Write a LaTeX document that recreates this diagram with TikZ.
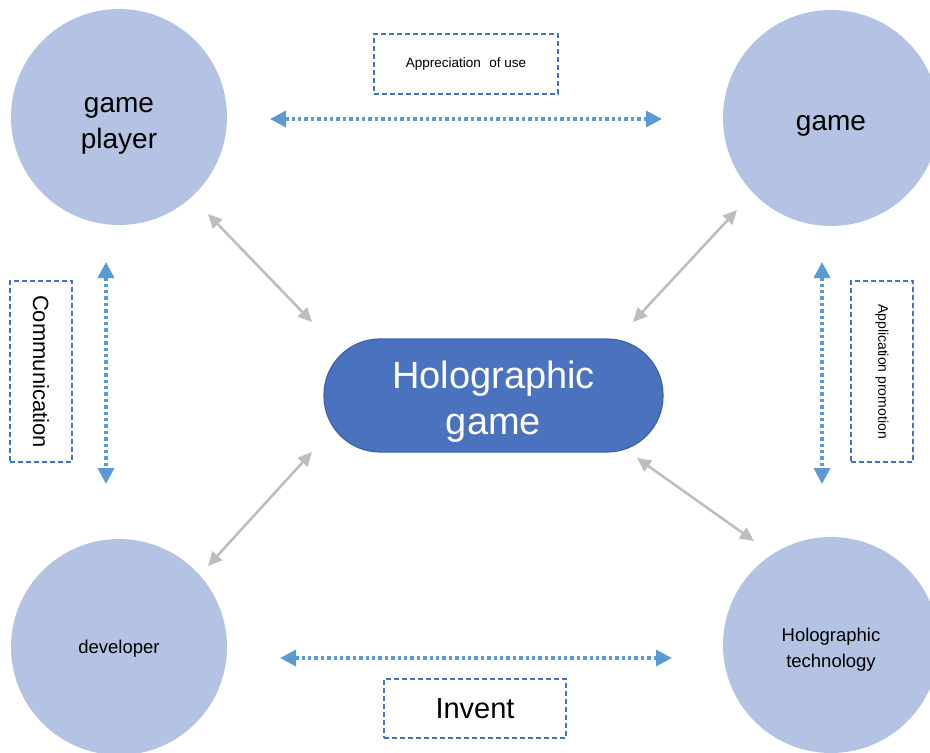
\documentclass[tikz,border=0pt]{standalone}
\usepackage{fontspec}
\setmainfont{Liberation Sans}
\usetikzlibrary{arrows.meta}
\definecolor{circfill}{HTML}{B4C3E3}
\definecolor{coreblue}{HTML}{4A72BE}
\definecolor{coreedge}{HTML}{3F64A6}
\definecolor{dotblue}{HTML}{5B9BD5}
\definecolor{boxblue}{HTML}{4472C4}
\definecolor{arrgray}{HTML}{BDBDBD}
\tikzset{
  bigcirc/.style={circle, fill=circfill, minimum size=216pt, inner sep=0pt},
  ctext/.style={align=center, text=black, inner sep=0pt},
  core/.style={rectangle, rounded corners=56pt, fill=coreblue, draw=coreedge, line width=1.2pt, minimum width=339pt, minimum height=113pt},
  coretext/.style={text=white, align=center, inner sep=0pt, font=\fontsize{38}{46}\selectfont},
  labbox/.style={draw=boxblue, dash pattern=on 5pt off 3pt, line width=1.6pt, inner sep=0pt, align=center},
  dotarrow/.style={draw=dotblue, line width=3.4pt, dash pattern=on 3.4pt off 3pt, {Triangle[length=16pt,width=16pt]}-{Triangle[length=16pt,width=16pt]}},
  grayarrow/.style={draw=arrgray, line width=2.5pt, {Triangle[length=14pt,width=13pt]}-{Triangle[length=14pt,width=13pt]}}
}
\begin{document}
\begin{tikzpicture}[x=1pt,y=-1pt]
\useasboundingbox (0,0) rectangle (930,753);
\fill[white] (0,0) rectangle (930,753);
\clip (0,0) rectangle (930,753);
% circles
\node[bigcirc] (player) at (119,117) {};
\node[ctext, font=\fontsize{28}{36}\selectfont] (playert) at (119,126) {game\\player};
\node[bigcirc] (game) at (831,118) {};
\node[ctext, font=\fontsize{28}{36}\selectfont] (gamet) at (831,126) {game};
\node[bigcirc] (dev) at (119,647) {};
\node[ctext, font=\fontsize{18.5}{26}\selectfont] (devt) at (119,649) {developer};
\node[bigcirc] (tech) at (831,645) {};
\node[ctext, font=\fontsize{18.5}{26}\selectfont] (techt) at (831,650) {Holographic\\technology};
% center
\node[core] (holo) at (493.5,395.5) {};
\node[coretext] (holot) at (493.5,402) {Holographic\\game};
% label boxes
\node[labbox, minimum width=184pt, minimum height=60pt, font=\fontsize{13.5}{16}\selectfont] (appr) at (466,64) {Appreciation\hspace{0.35em} of use};
\node[labbox, minimum width=62pt, minimum height=181pt] (comm) at (41,371.5) {};
\node[rotate=-90, font=\fontsize{22}{26}\selectfont] (commt) at (comm.center) {Communication};
\node[labbox, minimum width=62pt, minimum height=181pt] (apbox) at (882,371.5) {};
\node[rotate=-90, font=\fontsize{14}{16}\selectfont] (apt) at (apbox.center) {Application promotion};
\node[labbox, minimum width=182pt, minimum height=59pt, font=\fontsize{29}{34}\selectfont] (inv) at (475,708.5) {Invent};
% dotted arrow endpoints
\coordinate (t1) at (270,119); \coordinate (t2) at (662,119);
\coordinate (l1) at (106,262); \coordinate (l2) at (106,484);
\coordinate (r1) at (822,262); \coordinate (r2) at (822,484);
\coordinate (b1) at (280,658); \coordinate (b2) at (672,658);
\draw[dotarrow] (t1) -- (t2);
\draw[dotarrow] (l1) -- (l2);
\draw[dotarrow] (r1) -- (r2);
\draw[dotarrow] (b1) -- (b2);
% gray arrow endpoints
\coordinate (g1a) at (208,214); \coordinate (g1b) at (312,322);
\coordinate (g2a) at (737,210); \coordinate (g2b) at (633,322);
\coordinate (g3a) at (208,566); \coordinate (g3b) at (312,452);
\coordinate (g4a) at (637,458); \coordinate (g4b) at (754,541);
\draw[grayarrow] (g1a) -- (g1b);
\draw[grayarrow] (g2a) -- (g2b);
\draw[grayarrow] (g3a) -- (g3b);
\draw[grayarrow] (g4a) -- (g4b);
\end{tikzpicture}
\end{document}
